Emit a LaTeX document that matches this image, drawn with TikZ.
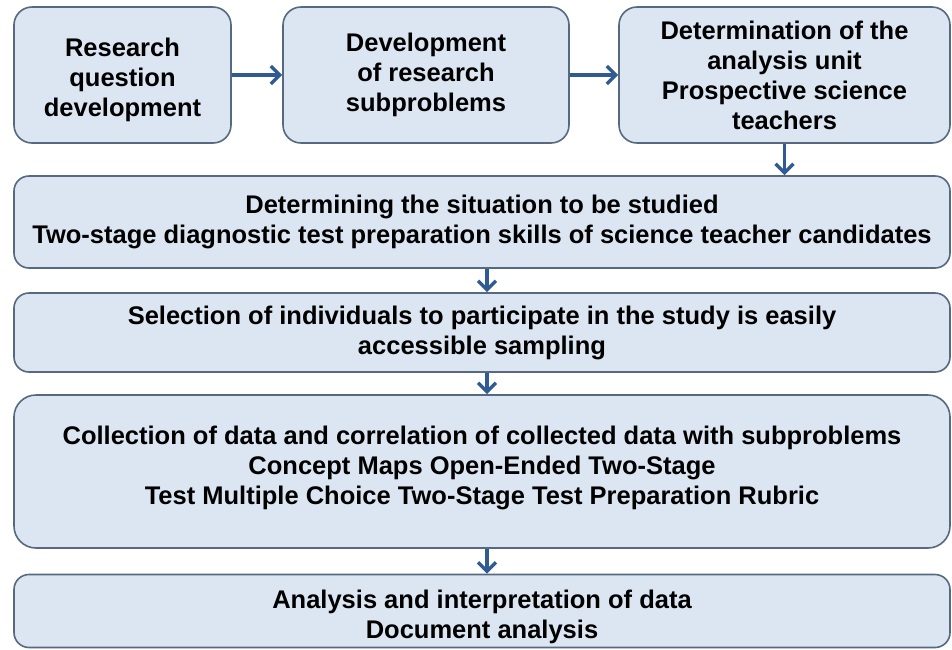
\documentclass[tikz,border=0pt]{standalone}
\usepackage{fontspec}
\setmainfont{Liberation Sans}
\usetikzlibrary{arrows.meta}

\definecolor{boxfill}{HTML}{DCE6F2}
\definecolor{boxline}{HTML}{56697F}
\definecolor{arrowblue}{HTML}{2F5A92}

\tikzset{
    stagebox/.style={draw=boxline, fill=boxfill, line width=1.6pt, rounded corners=18pt,
        align=center, inner sep=0pt, font=\bfseries\fontsize{25.5}{30}\selectfont},
    flow/.style={draw=arrowblue, line width=3.4pt, -{Straight Barb[length=9pt,width=18pt]}}
}

\begin{document}
\begin{tikzpicture}[x=1pt, y=-1pt]
            \useasboundingbox (0,0) rectangle (952,649);
            \fill[white] (0,0) rectangle (952,649);

            % top row of boxes
            \node[stagebox, minimum width=217pt, minimum height=136pt] (question) at (122.5,75) {\rule{0pt}{29pt}Research\\question\\development};
            \node[stagebox, minimum width=286pt, minimum height=136pt] (subproblems) at (426,75) {Development\\of research\\subproblems};
            \node[stagebox, minimum width=331pt, minimum height=136pt] (unit) at (784.5,75) {Determination of the\\analysis unit\\Prospective science\\teachers};

            % wide boxes below
            \node[stagebox, rounded corners=15pt, minimum width=936pt, minimum height=92pt] (situation) at (482,222) {Determining the situation to be studied\\Two-stage diagnostic test preparation skills of science teacher candidates};
            \node[stagebox, rounded corners=15pt, minimum width=936pt, minimum height=79pt] (sampling) at (482,332.5) {Selection of individuals to participate in the study is easily\\accessible sampling};
            \node[stagebox, rounded corners=22pt, minimum width=936pt, minimum height=153pt] (collection) at (482,471.5) {Collection of data and correlation of collected data with subproblems\\Concept Maps Open-Ended Two-Stage\\Test Multiple Choice Two-Stage Test Preparation Rubric\\[-18pt]};
            \node[stagebox, rounded corners=15pt, minimum width=936pt, minimum height=73pt] (analysis) at (482,611) {\rule{0pt}{30pt}Analysis and interpretation of data\\Document analysis};

            % arrows
            \draw[flow] (question) -- (subproblems);
            \draw[flow] (subproblems) -- (unit);
            \draw[flow] (unit.south) -- (unit.south |- situation.north);
            \draw[flow] ([xshift=5pt]situation.south) -- ([xshift=5pt]sampling.north);
            \draw[flow] ([xshift=5pt]sampling.south) -- ([xshift=5pt]collection.north);
            \draw[flow] ([xshift=5pt]collection.south) -- ([xshift=5pt]analysis.north);
\end{tikzpicture}
\end{document}
